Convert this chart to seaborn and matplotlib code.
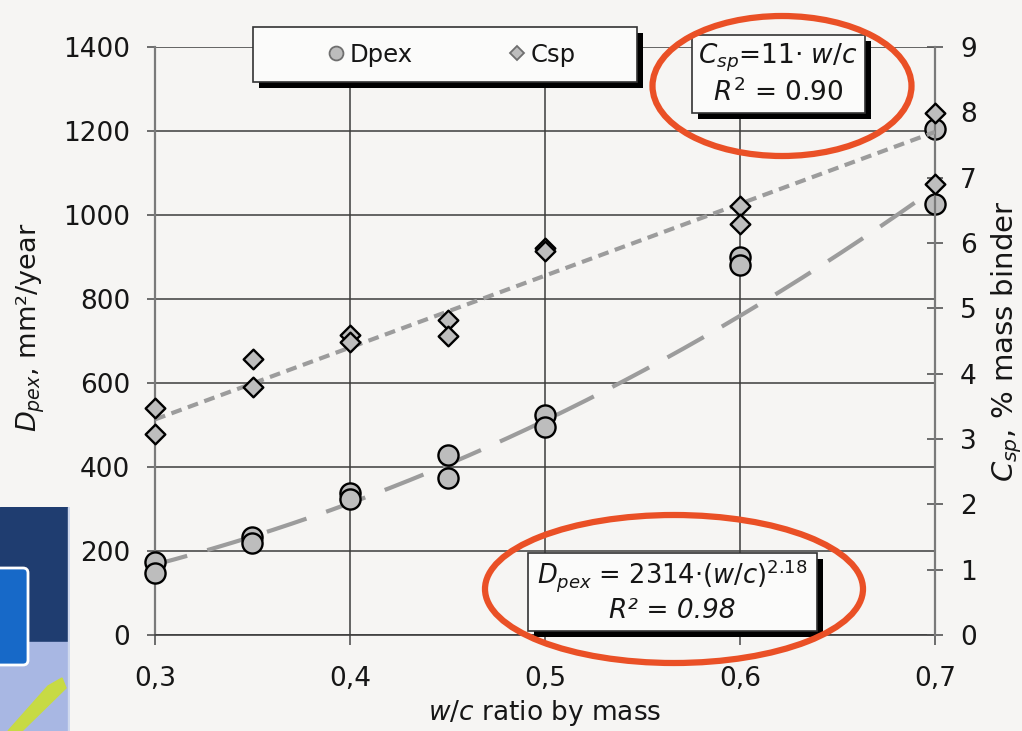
import numpy as np
import pandas as pd
import matplotlib
matplotlib.use("Agg")
import matplotlib.pyplot as plt
from matplotlib.patches import Rectangle, Ellipse, FancyBboxPatch, Polygon
from matplotlib.lines import Line2D
import seaborn as sns

# ---- measured values -------------------------------------------------------
wc = [0.30, 0.30, 0.35, 0.35, 0.40, 0.40, 0.45, 0.45, 0.50, 0.50, 0.60, 0.60, 0.70, 0.70]
dpex = [174, 147, 234, 218, 337, 325, 429, 373, 524, 496, 901, 881, 1204, 1026]
csp = [3.48, 3.08, 4.22, 3.80, 4.59, 4.49, 4.82, 4.58, 5.92, 5.88, 6.57, 6.29, 7.99, 6.91]

# fitted relations
csp_coef = 11.0
csp_r2 = 0.90
dpex_coef = 2314.0
dpex_exp = 2.18
dpex_r2 = 0.98

x_ticks = [0.3, 0.4, 0.5, 0.6, 0.7]
x_tick_labels = ["0,3", "0,4", "0,5", "0,6", "0,7"]
left_ticks = [0, 200, 400, 600, 800, 1000, 1200, 1400]
right_ticks = [0, 1, 2, 3, 4, 5, 6, 7, 8, 9]

BG = "#f6f5f3"
MARK = "#bdbdbd"
FIT = "#9c9c9c"
GRID = "#3c3c3c"
RING = "#ea5026"
INK = "#161616"

sns.set_theme(style="white")
plt.rcParams["font.family"] = ["DejaVu Sans"]
plt.rcParams["mathtext.fontset"] = "dejavusans"

W, H = 1022, 731
fig = plt.figure(figsize=(W / 100, H / 100), dpi=100, facecolor=BG)


def fx(px):
    return px / W


def fy(py):
    return 1 - py / H


# ---- slide background fragment, lower left -----------------------------------
bg = fig.add_axes([0, 0, fx(70), (H - 507) / H], zorder=-1)
bg.set_xlim(0, 70)
bg.set_ylim(731, 507)
bg.set_facecolor("#1f3d70")
bg.axis("off")
bg.add_patch(Rectangle((0, 507), 70, 224, color="#1f3d70"))
bg.add_patch(Rectangle((0, 642), 70, 89, color="#a8b7e3"))
bg.add_patch(FancyBboxPatch((-12, 568), 40, 97, boxstyle="round,pad=0,rounding_size=5",
                            fc="#1769c8", ec="white", lw=2))
bg.add_patch(Polygon([(8, 731), (22, 731), (66, 688), (62, 678), (48, 686)],
                     closed=True, color="#c7da44"))
bg.add_patch(Rectangle((68, 507), 2, 224, color="#cfd9ee"))

# ---- main axes -------------------------------------------------------------
ax = fig.add_axes([fx(155), fy(635), fx(935) - fx(155), fy(47) - fy(635)])
ax.set_facecolor(BG)

fit_x = np.linspace(0.3, 0.7, 200)
fit_df = pd.DataFrame({
    "wc": fit_x,
    "dpex": dpex_coef * fit_x ** dpex_exp,
    "csp": csp_coef * fit_x,
})
pts = pd.DataFrame({"wc": wc, "dpex": dpex, "csp": csp})

sns.lineplot(data=fit_df, x="wc", y="dpex", ax=ax, color=FIT, lw=3.0,
             linestyle=(2, (10, 5)), zorder=3)
sns.scatterplot(data=pts, x="wc", y="dpex", ax=ax, marker="o", s=210,
                color=MARK, edgecolor="black", linewidth=1.7, zorder=4,
                legend=False, clip_on=False)

ax.set_xlim(0.3, 0.7)
ax.set_ylim(0, 1400)
ax.set_xticks(x_ticks)
ax.set_xticklabels(x_tick_labels)
ax.set_yticks(left_ticks)
ax.grid(True, color=GRID, lw=1.1)
ax.set_axisbelow(True)
for s in ["top", "right"]:
    ax.spines[s].set_visible(False)
ax.spines["left"].set_color("#7a7a7a")
ax.spines["left"].set_linewidth(1.6)
ax.spines["bottom"].set_color(GRID)
ax.spines["bottom"].set_linewidth(1.2)
ax.tick_params(axis="y", direction="out", length=6, width=1.2, color="#555555",
               pad=12, labelsize=19, left=True)
ax.tick_params(axis="x", direction="out", length=7, width=1.2, color="#555555",
               pad=15, labelsize=19, bottom=True)
for lab in ax.get_xticklabels() + ax.get_yticklabels():
    lab.set_color(INK)

ax.set_xlabel(r"$w/c$ ratio by mass", fontsize=19, labelpad=5, color=INK)
ax.set_ylabel(r"$D_{pex}$, mm²/year", fontsize=19.5, color=INK)
ax.yaxis.set_label_coords(-0.139, 0.524)

# ---- secondary axis --------------------------------------------------------
ax2 = ax.twinx()
sns.lineplot(data=fit_df, x="wc", y="csp", ax=ax2, color=FIT, lw=3.0,
             linestyle=(0, (2.6, 1.6)), zorder=3)
sns.scatterplot(data=pts, x="wc", y="csp", ax=ax2, marker="D", s=100,
                color=MARK, edgecolor="black", linewidth=1.7, zorder=4,
                legend=False, clip_on=False)
ax2.set_ylim(0, 9)
ax2.set_xlim(0.3, 0.7)
ax2.set_yticks(right_ticks)
for s in ["top", "left", "bottom"]:
    ax2.spines[s].set_visible(False)
ax2.spines["right"].set_color("#7a7a7a")
ax2.spines["right"].set_linewidth(1.6)
ax2.tick_params(axis="y", direction="inout", length=12, width=1.2, color="#555555",
                pad=12, labelsize=19, right=True)
for lab in ax2.get_yticklabels():
    lab.set_color(INK)
ax2.set_ylabel(r"$C_{sp}$, % mass binder", fontsize=21, labelpad=9,
               color=INK, rotation=90)


# ---- boxes with drop shadow -------------------------------------------------
def shadow_box(x0, y0, x1, y1, off=6):
    fig.add_artist(Rectangle((fx(x0 + off), fy(y1 + off)), fx(x1 - x0), fy(y0) - fy(y1),
                             transform=fig.transFigure, fc="black", ec="none", zorder=5))
    fig.add_artist(Rectangle((fx(x0), fy(y1)), fx(x1 - x0), fy(y0) - fy(y1),
                             transform=fig.transFigure, fc="#fbfbfa", ec="#333333",
                             lw=1.2, zorder=5.5))


# legend
shadow_box(253, 27, 637, 82)
handles = [
    Line2D([], [], marker="o", ls="none", ms=10, mfc=MARK, mec="#6f6f6f", mew=1.3),
    Line2D([], [], marker="D", ls="none", ms=7.5, mfc=MARK, mec="#6f6f6f", mew=1.3),
]
leg = fig.legend(handles, ["Dpex", "Csp"], loc="center", ncol=2,
                 bbox_to_anchor=(fx(451), fy(55)), bbox_transform=fig.transFigure,
                 frameon=False, fontsize=17.5, handlelength=0.8, handletextpad=0.15,
                 columnspacing=3.9)
for t in leg.get_texts():
    t.set_color(INK)
leg.set_zorder(6)

# Csp relation
shadow_box(692, 35, 865, 113)
fig.text(fx(778), fy(58), r"$C_{sp}$=" + f"{csp_coef:.0f}· " + r"$w/c$",
         ha="center", va="center", fontsize=19, color=INK, zorder=6)
fig.text(fx(778), fy(93), r"$R^{2}$" + f" = {csp_r2:.2f}",
         ha="center", va="center", fontsize=19, color=INK, zorder=6)

# Dpex relation
shadow_box(528, 553, 817, 631)
fig.text(fx(672), fy(576),
         r"$D_{pex}$ = " + f"{dpex_coef:.0f}" + r"·($w/c$)$^{\mathit{" + f"{dpex_exp:.2f}" + r"}}$",
         ha="center", va="center", fontsize=18.5, color=INK, zorder=6)
fig.text(fx(672), fy(611), f"R² = {dpex_r2:.2f}", style="italic",
         ha="center", va="center", fontsize=19, color=INK, zorder=6)

# highlight rings
for cx, cy, w, h in [(782, 86, 259, 140), (674, 589, 378, 148)]:
    fig.add_artist(Ellipse((fx(cx), fy(cy)), fx(w), h / H, transform=fig.transFigure,
                           fill=False, ec=RING, lw=4.5, zorder=7))

fig.savefig("out.png", dpi=100, facecolor=BG)
